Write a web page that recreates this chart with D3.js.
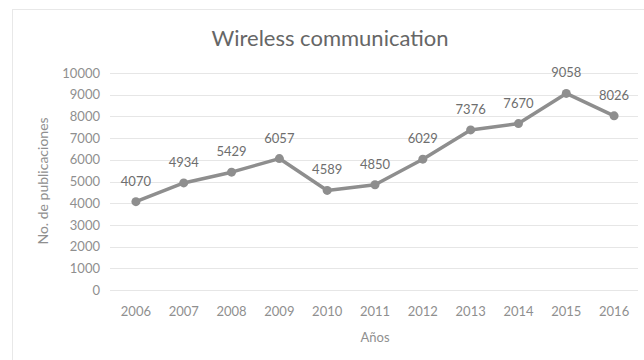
<!DOCTYPE html>
<html>
<head>
<meta charset="utf-8">
<script src="https://cdn.jsdelivr.net/npm/d3@7"></script>
<style>
  html, body { margin: 0; padding: 0; background: #fff; }
  svg { display: block; }
  text { font-family: Lato, "Noto Sans", sans-serif; }
</style>
</head>
<body>
<svg id="chart" width="644" height="360"></svg>
<script>
const years = ["2006","2007","2008","2009","2010","2011","2012","2013","2014","2015","2016"];
const publications = [4070, 4934, 5429, 6057, 4589, 4850, 6029, 7376, 7670, 9058, 8026];
const yTicks = [0, 1000, 2000, 3000, 4000, 5000, 6000, 7000, 8000, 9000, 10000];
const title = "Wireless communication";
const xTitle = "Años";
const yTitle = "No. de publicaciones";

const svg = d3.select("#chart");

// chart area border
svg.append("rect")
  .attr("x", 12.5).attr("y", 9.5)
  .attr("width", 640).attr("height", 360)
  .attr("fill", "none").attr("stroke", "#e8e8e8").attr("stroke-width", 1);

const plot = { left: 112, right: 638, top: 73, bottom: 290 };

const x = d3.scaleBand().domain(years).range([plot.left, plot.right]);
const y = d3.scaleLinear().domain([0, 10000]).range([plot.bottom, plot.top]);

// gridlines
svg.append("g")
  .selectAll("line")
  .data(yTicks)
  .join("line")
  .attr("x1", 110).attr("x2", plot.right)
  .attr("y1", d => Math.round(y(d)) + 0.5)
  .attr("y2", d => Math.round(y(d)) + 0.5)
  .attr("stroke", "#e6e6e6").attr("stroke-width", 1);

// y axis labels
const yAxis = d3.axisLeft(y).tickValues(yTicks).tickSize(0).tickPadding(0).tickFormat(d3.format("d"));
const gy = svg.append("g").attr("transform", "translate(100,0)").call(yAxis);
gy.select(".domain").remove();
gy.selectAll("text").attr("fill", "#8f8f8f").attr("font-size", 13)
  .attr("font-family", "Lato, 'Noto Sans', sans-serif");

// x axis labels
const xAxis = d3.axisBottom(x).tickSize(0).tickPadding(0);
const gx = svg.append("g").attr("transform", "translate(0,307)").call(xAxis);
gx.select(".domain").remove();
gx.selectAll("text").attr("fill", "#8f8f8f").attr("font-size", 13)
  .attr("font-family", "Lato, 'Noto Sans', sans-serif");

// line
const cx = d => x(d) + x.bandwidth() / 2;
const data = years.map((yr, i) => ({ yr, v: publications[i] }));
const line = d3.line().x(d => cx(d.yr)).y(d => y(d.v));
svg.append("path")
  .datum(data)
  .attr("d", line)
  .attr("fill", "none")
  .attr("stroke", "#8e8e8e")
  .attr("stroke-width", 3.5)
  .attr("stroke-linejoin", "round");

svg.append("g")
  .selectAll("circle")
  .data(data)
  .join("circle")
  .attr("cx", d => cx(d.yr))
  .attr("cy", d => y(d.v))
  .attr("r", 4.5)
  .attr("fill", "#8e8e8e");

// data labels
svg.append("g")
  .selectAll("text")
  .data(data)
  .join("text")
  .attr("x", d => cx(d.yr))
  .attr("y", d => y(d.v) - 16)
  .attr("text-anchor", "middle")
  .attr("font-size", 13)
  .attr("fill", "#6e6e6e")
  .text(d => d.v);

// title
svg.append("text")
  .attr("x", 330).attr("y", 46)
  .attr("text-anchor", "middle")
  .attr("font-size", 22)
  .attr("fill", "#666666")
  .text(title);

// axis titles
svg.append("text")
  .attr("x", 375).attr("y", 342)
  .attr("text-anchor", "middle")
  .attr("font-size", 13)
  .attr("fill", "#8f8f8f")
  .text(xTitle);

svg.append("text")
  .attr("transform", "translate(48,181) rotate(-90)")
  .attr("text-anchor", "middle")
  .attr("font-size", 14)
  .attr("fill", "#8f8f8f")
  .text(yTitle);
</script>
</body>
</html>
